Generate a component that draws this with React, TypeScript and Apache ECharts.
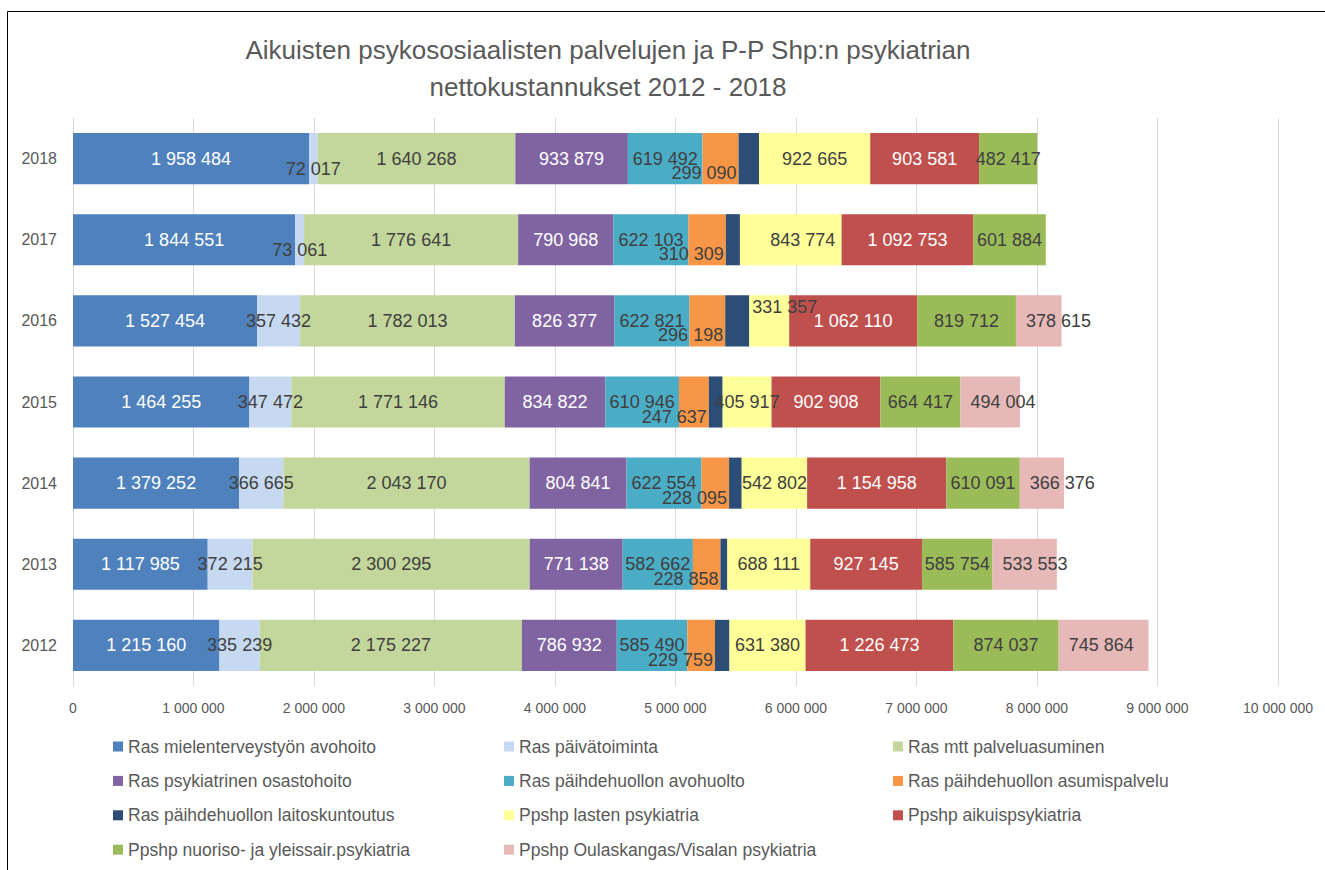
import React, { useEffect, useRef } from "react";
import * as echarts from "echarts";

const years = ["2012", "2013", "2014", "2015", "2016", "2017", "2018"];

const seriesNames = [
  "Ras mielenterveystyön avohoito",
  "Ras päivätoiminta",
  "Ras mtt palveluasuminen",
  "Ras psykiatrinen osastohoito",
  "Ras päihdehuollon avohuolto",
  "Ras päihdehuollon asumispalvelu",
  "Ras päihdehuollon laitoskuntoutus",
  "Ppshp lasten psykiatria",
  "Ppshp aikuispsykiatria",
  "Ppshp nuoriso- ja yleissair.psykiatria",
  "Ppshp Oulaskangas/Visalan psykiatria",
];

const avohoito = [1215160, 1117985, 1379252, 1464255, 1527454, 1844551, 1958484];
const paivatoiminta = [335239, 372215, 366665, 347472, 357432, 73061, 72017];
const palveluasuminen = [2175227, 2300295, 2043170, 1771146, 1782013, 1776641, 1640268];
const osastohoito = [786932, 771138, 804841, 834822, 826377, 790968, 933879];
const avohuolto = [585490, 582662, 622554, 610946, 622821, 622103, 619492];
const asumispalvelu = [229759, 228858, 228095, 247637, 296198, 310309, 299090];
const laitoskuntoutus = [120000, 57000, 105000, 115000, 200000, 117000, 170000];
const lasten = [631380, 688111, 542802, 405917, 331357, 843774, 922665];
const aikuis = [1226473, 927145, 1154958, 902908, 1062110, 1092753, 903581];
const nuoriso = [874037, 585754, 610091, 664417, 819712, 601884, 482417];
const oulaskangas: (number | null)[] = [745864, 533553, 366376, 494004, 378615, null, null];

const xTicks = { min: 0, max: 10000000, interval: 1000000 };

const seriesValues = [
  avohoito, paivatoiminta, palveluasuminen, osastohoito, avohuolto,
  asumispalvelu, laitoskuntoutus, lasten, aikuis, nuoriso, oulaskangas,
];

const colors = [
  "#4F81BD", "#C6D9F1", "#C3D69B", "#8064A2", "#4BACC6", "#F79646",
  "#2C4D75", "#FFFF99", "#C0504D", "#9BBB59", "#E6B9B8",
];

const labelColors = [
  "#FFFFFF", "#404040", "#404040", "#FFFFFF", "#404040", "#404040",
  "#404040", "#404040", "#FFFFFF", "#404040", "#404040",
];

const fmt = (v: number) => String(v).replace(/\B(?=(\d{3})+(?!\d))/g, " ");

const FONT = "'Liberation Sans', Arial, sans-serif";

export default function App() {
  const ref = useRef<HTMLDivElement>(null);
  useEffect(() => {
    if (!ref.current) return;
    const chart = echarts.init(ref.current, undefined, { renderer: "svg" });

    const baseLabel: any[] = seriesNames.map((_, i) => ({
      show: i !== 6,
      position: "inside",
      fontSize: 18,
      color: labelColors[i],
      fontFamily: FONT,
      formatter: (p: any) => (p.value == null ? "" : fmt(p.value)),
    }));
    baseLabel[5] = { ...baseLabel[5], position: "insideBottomRight", distance: 2 };
    baseLabel[10] = { ...baseLabel[10], position: "insideLeft", distance: 10 };

    const tweaks: Record<number, Record<number, any>> = {
      1: { 5: { offset: [0, 10] }, 6: { offset: [0, 10] } },
      7: { 4: { position: "insideTopLeft", distance: 3 }, 5: { offset: [12, 0] } },
    };

    const series = seriesNames.map((name, i) => ({
      name,
      type: "bar",
      stack: "total",
      barCategoryGap: "37%",
      itemStyle: { color: colors[i] },
      label: baseLabel[i],
      emphasis: { disabled: true },
      data: seriesValues[i].map((v, j) =>
        tweaks[i] && tweaks[i][j] ? { value: v, label: tweaks[i][j] } : v
      ),
    }));

    const cols = [
      [0, 3, 6, 9],
      [1, 4, 7, 10],
      [2, 5, 8],
    ];
    const colLeft = [113, 504, 893];
    const legends = cols.map((c, k) => ({
      orient: "vertical",
      left: colLeft[k],
      top: 737.5,
      padding: 0,
      itemWidth: 10,
      itemHeight: 10,
      itemGap: 16.4,
      icon: "rect",
      selectedMode: false,
      textStyle: { fontSize: 17.5, lineHeight: 17, color: "#595959", fontFamily: FONT },
      data: c.map((idx) => seriesNames[idx]),
    }));

    chart.setOption({
      animation: false,
      textStyle: { fontFamily: FONT },
      graphic: [
        {
          type: "rect",
          shape: { x: 7.5, y: 11.5, width: 1340, height: 900 },
          style: { fill: "none", stroke: "#000000", lineWidth: 1 },
          silent: true,
        },
        {
          type: "text",
          x: 608,
          y: 50,
          style: {
            text: "Aikuisten psykososiaalisten palvelujen ja P-P Shp:n psykiatrian",
            fontSize: 26,
            fontFamily: FONT,
            fill: "#595959",
            textAlign: "center",
            textVerticalAlign: "middle",
          },
        },
        {
          type: "text",
          x: 608,
          y: 87,
          style: {
            text: "nettokustannukset 2012 - 2018",
            fontSize: 26,
            fontFamily: FONT,
            fill: "#595959",
            textAlign: "center",
            textVerticalAlign: "middle",
          },
        },
      ],
      legend: legends,
      grid: { left: 73, top: 118, width: 1205, height: 568, containLabel: false },
      xAxis: {
        type: "value",
        min: xTicks.min,
        max: xTicks.max,
        interval: xTicks.interval,
        axisLine: { show: false },
        axisTick: { show: false },
        splitLine: { show: true, lineStyle: { color: "#D9D9D9", width: 1 } },
        axisLabel: {
          color: "#595959",
          fontSize: 14,
          margin: 15,
          fontFamily: FONT,
          formatter: (v: number) => fmt(v),
        },
      },
      yAxis: {
        type: "category",
        data: years,
        axisLine: { show: true, lineStyle: { color: "#D9D9D9", width: 1 } },
        axisTick: { show: false },
        axisLabel: { color: "#595959", fontSize: 16, margin: 16, fontFamily: FONT },
      },
      series,
    });
    return () => chart.dispose();
  }, []);

  return (
    <div
      ref={ref}
      style={{ position: "fixed", left: 0, top: 0, width: 1325, height: 870, background: "#fff" }}
    />
  );
}
